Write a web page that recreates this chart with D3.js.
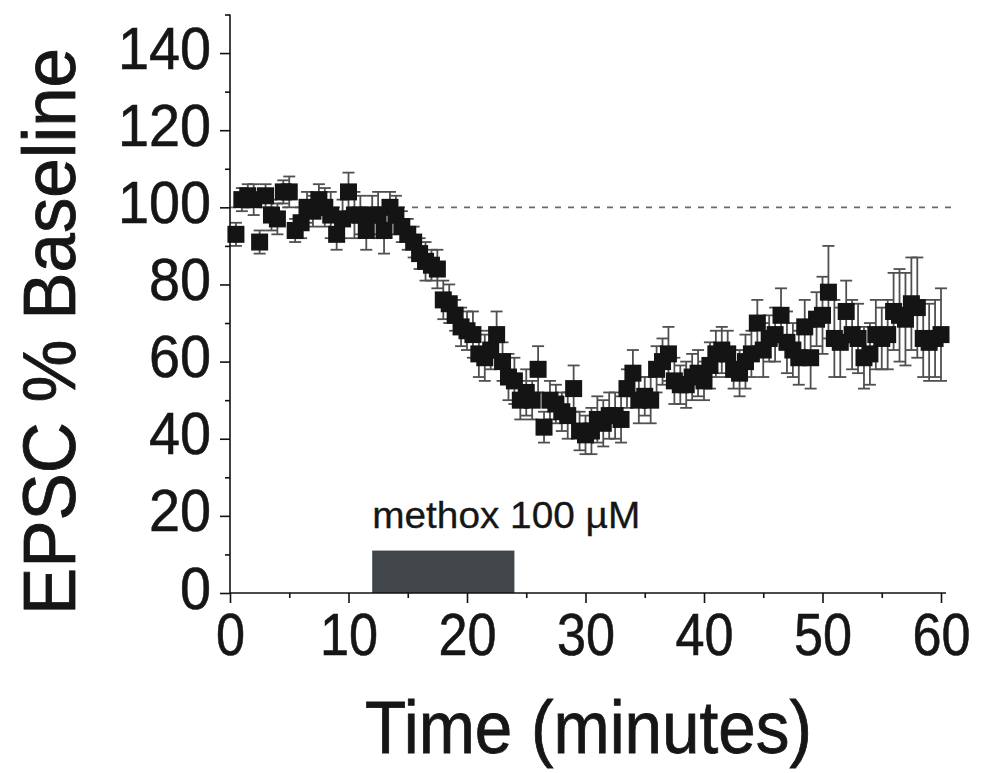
<!DOCTYPE html>
<html>
<head>
<meta charset="utf-8">
<script src="https://cdnjs.cloudflare.com/ajax/libs/d3/7.8.5/d3.min.js"></script>
<style>
  html, body { margin: 0; padding: 0; background: #fff; }
  svg { display: block; font-family: "Liberation Sans", Arial, Helvetica, sans-serif; }
</style>
</head>
<body>
<svg id="chart" width="982" height="773"></svg>
<script>
// Recording time (minutes)
const times = [
  0.5, 1, 1.5, 2, 2.5, 3, 3.5, 4, 4.5, 5, 5.5, 6, 6.5, 7, 7.5, 8, 8.5, 9, 9.5, 10,
  10.5, 11, 11.5, 12, 12.5, 13, 13.5, 14, 14.5, 15, 15.5, 16, 16.5, 17, 17.5, 18, 18.5, 19, 19.5, 20,
  20.5, 21, 21.5, 22, 22.5, 23, 23.5, 24, 24.5, 25, 25.5, 26, 26.5, 27, 27.5, 28, 28.5, 29, 29.5, 30,
  30.5, 31, 31.5, 32, 32.5, 33, 33.5, 34, 34.5, 35, 35.5, 36, 36.5, 37, 37.5, 38, 38.5, 39, 39.5, 40,
  40.5, 41, 41.5, 42, 42.5, 43, 43.5, 44, 44.5, 45, 45.5, 46, 46.5, 47, 47.5, 48, 48.5, 49, 49.5, 50,
  50.5, 51, 51.5, 52, 52.5, 53, 53.5, 54, 54.5, 55, 55.5, 56, 56.5, 57, 57.5, 58, 58.5, 59, 59.5, 60
];
// EPSC amplitude, % of baseline (mean)
const epsc = [
  93, 102, 103, 102, 91, 103, 98, 97, 104, 104, 94, 96, 100, 99, 102, 100, 98, 93, 97, 104,
  98, 98, 94, 98, 98, 94, 100, 98, 95, 93, 91, 88, 86, 85, 84, 76, 75, 72, 69, 68,
  67, 62, 61, 63, 67, 60, 56, 55, 50, 52, 50, 58, 43, 50, 49, 47, 46, 53, 42, 41,
  42, 45, 44, 46, 46, 45, 53, 57, 50, 51, 50, 58, 60, 62, 55, 54, 54, 56, 57, 55,
  59, 62, 63, 62, 58, 57, 60, 62, 70, 63, 66, 67, 72, 65, 63, 61, 69, 61, 71, 72,
  78, 66, 65, 73, 67, 66, 61, 62, 67, 66, 67, 73, 72, 71, 75, 74, 66, 65, 66, 67
];
// Standard error of the mean
const sem = [
  3, 3, 3, 4, 3, 3, 4, 4, 3, 4, 3, 4, 4, 4, 4, 5, 6, 4, 5, 5,
  6, 5, 5, 5, 6, 6, 4, 5, 4, 4, 4, 4, 5, 4, 5, 5, 5, 4, 5, 5,
  6, 6, 6, 5, 6, 5, 6, 6, 5, 6, 5, 6, 4, 5, 5, 5, 6, 6, 5, 5,
  6, 6, 6, 6, 6, 6, 5, 6, 6, 5, 6, 6, 6, 7, 6, 5, 6, 6, 6, 5,
  6, 6, 6, 6, 5, 6, 7, 6, 6, 7, 6, 7, 7, 8, 7, 7, 7, 8, 7, 10,
  12, 10, 9, 8, 9, 9, 8, 8, 9, 8, 9, 10, 12, 12, 12, 13, 10, 10, 10, 12
];
const xMajor = [0, 10, 20, 30, 40, 50, 60];
const xMinor = [5, 15, 25, 35, 45, 55];
const yMajor = [0, 20, 40, 60, 80, 100, 120, 140];
const yMinor = [10, 30, 50, 70, 90, 110, 130, 150];
const drug = { label: "methox 100 \u00B5M", start: 12, end: 24, height: 11 };
const baseline = 100;

const ink = "#161616";
const svg = d3.select("#chart");
const x = d3.scaleLinear().domain([0, 60]).range([230, 941]);
const y = d3.scaleLinear().domain([0, 150]).range([593, 14.5]);

// drug application bar
svg.append("rect")
  .attr("x", x(drug.start)).attr("y", y(drug.height))
  .attr("width", x(drug.end) - x(drug.start)).attr("height", y(0) - y(drug.height))
  .attr("fill", "#404649");
svg.append("text")
  .attr("x", x(drug.start)).attr("y", 528)
  .attr("font-size", 36).attr("fill", ink)
  .attr("stroke", ink).attr("stroke-width", 0.3)
  .attr("textLength", 268).attr("lengthAdjust", "spacingAndGlyphs")
  .text(drug.label);

// baseline reference
svg.append("line")
  .attr("x1", x(0)).attr("x2", x(61.3))
  .attr("y1", y(baseline)).attr("y2", y(baseline))
  .attr("stroke", "#6a6a6a").attr("stroke-width", 1.6)
  .attr("stroke-dasharray", "6,7");

const data = times.map((t, i) => ({ t, v: epsc[i], e: sem[i] }));

// error bars
const eb = svg.append("g").attr("stroke", "#505050").attr("stroke-width", 1.8);
data.forEach(d => {
  const cx = x(d.t), y1 = y(d.v + d.e), y2 = y(d.v - d.e);
  eb.append("line").attr("x1", cx).attr("x2", cx).attr("y1", y1).attr("y2", y2);
  eb.append("line").attr("x1", cx - 6).attr("x2", cx + 6).attr("y1", y1).attr("y2", y1);
  eb.append("line").attr("x1", cx - 6).attr("x2", cx + 6).attr("y1", y2).attr("y2", y2);
});

// mean markers
const s = 17;
svg.append("g").selectAll("rect").data(data).join("rect")
  .attr("x", d => x(d.t) - s / 2).attr("y", d => y(d.v) - s / 2)
  .attr("width", s).attr("height", s)
  .attr("fill", "#141414");

// axes
function styleAxis(g) {
  g.select(".domain").remove();
  g.selectAll("line").attr("stroke", "#111").attr("stroke-width", 1.6);
}
svg.append("g").attr("transform", `translate(0,${y(0)})`)
  .call(d3.axisBottom(x).tickValues(xMinor).tickSize(5).tickFormat(""))
  .call(styleAxis);
const gx = svg.append("g").attr("transform", `translate(0,${y(0)})`)
  .call(d3.axisBottom(x).tickValues(xMajor).tickSize(10).tickFormat(d3.format("d")))
  .call(styleAxis);
gx.selectAll("text")
  .attr("y", 62).attr("dy", null)
  .attr("font-size", 60).attr("fill", ink)
  .attr("stroke", ink).attr("stroke-width", 0.6)
  .attr("transform", "scale(0.87,1)");

svg.append("g").attr("transform", `translate(${x(0)},0)`)
  .call(d3.axisLeft(y).tickValues(yMinor).tickSize(5).tickFormat(""))
  .call(styleAxis);
const gy = svg.append("g").attr("transform", `translate(${x(0)},0)`)
  .call(d3.axisLeft(y).tickValues(yMajor).tickSize(10).tickFormat(d3.format("d")))
  .call(styleAxis);
gy.selectAll("text")
  .attr("x", -19 / 0.93).attr("y", 15).attr("dy", null)
  .attr("font-size", 60).attr("fill", ink)
  .attr("stroke", ink).attr("stroke-width", 0.6)
  .attr("transform", "scale(0.93,1)");

// axis lines
svg.append("line").attr("x1", x(0)).attr("x2", 946).attr("y1", y(0)).attr("y2", y(0))
  .attr("stroke", "#111").attr("stroke-width", 1.6);
svg.append("line").attr("x1", x(0)).attr("x2", x(0)).attr("y1", y(0)).attr("y2", y(150))
  .attr("stroke", "#111").attr("stroke-width", 1.6);

// axis titles
svg.append("text")
  .attr("x", 365).attr("y", 753)
  .attr("font-size", 74).attr("fill", ink)
  .attr("stroke", ink).attr("stroke-width", 0.8)
  .attr("textLength", 447).attr("lengthAdjust", "spacingAndGlyphs")
  .text("Time (minutes)");
svg.append("text")
  .attr("transform", "translate(75,615) rotate(-90)")
  .attr("font-size", 74).attr("fill", ink)
  .attr("stroke", ink).attr("stroke-width", 0.8)
  .attr("textLength", 567).attr("lengthAdjust", "spacingAndGlyphs")
  .text("EPSC % Baseline");
</script>
</body>
</html>
